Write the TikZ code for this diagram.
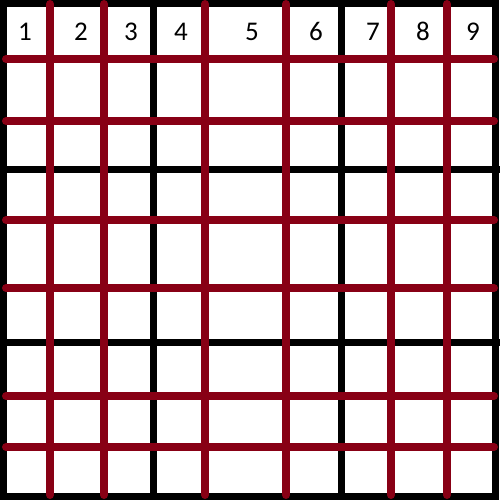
\documentclass[tikz,border=0pt]{standalone}
\usepackage{fontspec}
\setmainfont{Carlito}
\definecolor{paintred}{RGB}{136,0,21}
\tikzset{
    frame/.style={line width=3.5pt, black},
    overlay/.style={line width=4pt, paintred, line cap=round},
    colnum/.style={anchor=base, inner sep=0pt, font=\fontsize{13.5}{16}\selectfont}
}
\begin{document}
\begin{tikzpicture}[x=0.5pt, y=-0.5pt]
    \useasboundingbox (0,0) rectangle (500,500);
    \draw[frame] (3.5,3.5) rectangle (496,496);
    \foreach \x in {153.5, 342}
        \draw[frame] (\x,0) -- (\x,500);
    \foreach \y in {169, 342}
        \draw[frame] (0,\y) -- (500,\y);
    \foreach \x in {50, 104, 205, 286, 391, 447}
        \draw[overlay] (\x,4) -- (\x,495);
    \foreach \y in {59, 121, 220, 288, 396, 447}
        \draw[overlay] (6,\y) -- (494,\y);
    \foreach \x [count=\i] in {25, 81, 131, 181, 252, 316, 373, 423, 473}
        \node[colnum] (col\i) at (\x,40) {\i};
\end{tikzpicture}
\end{document}
